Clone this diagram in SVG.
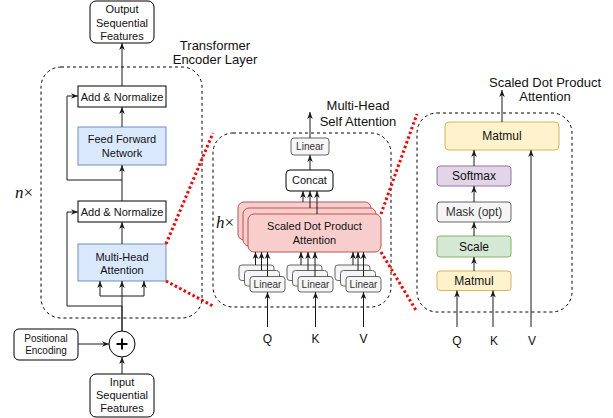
<svg xmlns="http://www.w3.org/2000/svg" width="613" height="418" viewBox="0 0 613 418">
  <style>
    text { font-family: "Liberation Sans", Arial, sans-serif; fill: #111; text-anchor: middle; }
    .t11 { font-size: 11px; }
    .t10 { font-size: 10px; }
    .t12 { font-size: 12px; }
    .t13 { font-size: 13px; }
    .plain { fill: #fff; stroke: #000; stroke-width: 1; }
    .blue { fill: #dae8fc; stroke: #6c8ebf; stroke-width: 1; }
    .red { fill: #f8cecc; stroke: #b85450; stroke-width: 1; }
    .gray { fill: #f5f5f5; stroke: #666; stroke-width: 1; }
    .yellow { fill: #fff2cc; stroke: #d6b656; stroke-width: 1; }
    .purple { fill: #e1d5e7; stroke: #9673a6; stroke-width: 1; }
    .green { fill: #d5e8d4; stroke: #82b366; stroke-width: 1; }
    .gtxt { fill: #333; }
    .dash { fill: none; stroke: #000; stroke-width: 1; stroke-dasharray: 3 3; }
    .edge { fill: none; stroke: #1a1a1a; stroke-width: 1; }
    .arrow { marker-end: url(#head); }
    .zoom { fill: none; stroke: #ff0000; stroke-width: 3; stroke-dasharray: 2.5 2.5; }
    .math { font-family: "Liberation Serif", "DejaVu Serif", serif; font-size: 17px; text-anchor: start; }
  </style>
  <defs>
    <marker id="head" viewBox="0 0 10 10" refX="10" refY="5" markerWidth="7" markerHeight="7" markerUnits="userSpaceOnUse" orient="auto">
      <path d="M0,1 L10,5 L0,9 L3,5 z" fill="#1a1a1a"/>
    </marker>
  </defs>

  <!-- ===== Encoder layer ===== -->
  <rect class="dash" x="41" y="67" width="161" height="251" rx="20"/>
  <text class="t13" x="215" y="49.5">Transformer</text>
  <text class="t13" x="215" y="63.5">Encoder Layer</text>
  <text class="math" x="15" y="198"><tspan font-style="italic">n</tspan>×</text>

  <g id="output">
    <rect class="plain" x="90" y="1" width="64" height="42" rx="6"/>
    <text class="t11" x="122" y="13.2">Output</text>
    <text class="t11" x="122" y="26.6">Sequential</text>
    <text class="t11" x="122" y="40">Features</text>
  </g>
  <g id="addnorm1">
    <rect class="plain" x="78" y="86" width="88" height="21"/>
    <text class="t11" x="122" y="100.5">Add &amp; Normalize</text>
  </g>
  <g id="ffn">
    <rect class="blue" x="78" y="127" width="88" height="38"/>
    <text class="t11" x="122" y="143">Feed Forward</text>
    <text class="t11" x="122" y="156.6">Network</text>
  </g>
  <g id="addnorm2">
    <rect class="plain" x="78" y="201" width="88" height="21"/>
    <text class="t11" x="122" y="215.5">Add &amp; Normalize</text>
  </g>
  <g id="mha">
    <rect class="blue" x="78" y="244" width="88" height="37"/>
    <text class="t11" x="122" y="260.6">Multi-Head</text>
    <text class="t11" x="122" y="274">Attention</text>
  </g>
  <g id="sum">
    <circle cx="122" cy="344" r="13" fill="#fff" stroke="#000" stroke-width="1"/>
    <path d="M116.5,344 H127.5 M122,338.5 V349.5" stroke="#000" stroke-width="2"/>
  </g>
  <g id="posenc">
    <rect class="plain" x="14" y="329" width="64" height="31" rx="5"/>
    <text class="t10" x="46" y="342.2">Positional</text>
    <text class="t10" x="46" y="354.2">Encoding</text>
  </g>
  <g id="input">
    <rect class="plain" x="90" y="374" width="64" height="43" rx="6"/>
    <text class="t11" x="122" y="385.6">Input</text>
    <text class="t11" x="122" y="399">Sequential</text>
    <text class="t11" x="122" y="411.6">Features</text>
  </g>

  <!-- ===== Multi-head self attention ===== -->
  <rect class="dash" x="213" y="133" width="178" height="174" rx="20"/>
  <text class="t13" x="358" y="109.5">Multi-Head</text>
  <text class="t13" x="358" y="125.5">Self Attention</text>
  <text class="math" x="216" y="228"><tspan font-style="italic">h</tspan>×</text>

  <g id="linear-out">
    <rect class="gray" x="291" y="138" width="38" height="17" rx="3"/>
    <text class="t10 gtxt" x="310" y="150">Linear</text>
  </g>
  <g id="concat">
    <rect class="plain" x="286" y="170" width="47" height="21" rx="4"/>
    <text class="t11" x="309.5" y="184.4">Concat</text>
  </g>
  <g id="sdpa-stack">
    <rect class="red" x="238" y="202" width="133" height="38" rx="6"/>
    <rect class="red" x="243" y="208" width="133" height="38" rx="6"/>
    <rect class="red" x="248" y="214" width="133" height="38" rx="6"/>
    <text class="t11" x="314.5" y="229.6">Scaled Dot Product</text>
    <text class="t11" x="314.5" y="243.9">Attention</text>
  </g>
  <g id="linear-q">
    <rect class="gray" x="239" y="265" width="35" height="15.5" rx="3"/>
    <rect class="gray" x="244.5" y="270.5" width="35" height="15.5" rx="3"/>
    <rect class="gray" x="250" y="276.5" width="35" height="15.5" rx="3"/>
    <text class="t10 gtxt" x="267.5" y="288">Linear</text>
  </g>
  <g id="linear-k">
    <rect class="gray" x="287" y="265" width="35" height="15.5" rx="3"/>
    <rect class="gray" x="292.5" y="270.5" width="35" height="15.5" rx="3"/>
    <rect class="gray" x="298" y="276.5" width="35" height="15.5" rx="3"/>
    <text class="t10 gtxt" x="315.5" y="288">Linear</text>
  </g>
  <g id="linear-v">
    <rect class="gray" x="335" y="265" width="35" height="15.5" rx="3"/>
    <rect class="gray" x="340.5" y="270.5" width="35" height="15.5" rx="3"/>
    <rect class="gray" x="346" y="276.5" width="35" height="15.5" rx="3"/>
    <text class="t10 gtxt" x="363.5" y="288">Linear</text>
  </g>
  <g id="mh-inputs">
    <text class="t12" x="267.5" y="342.5">Q</text>
    <text class="t12" x="315.5" y="342.5">K</text>
    <text class="t12" x="363.5" y="342.5">V</text>
  </g>

  <!-- ===== Scaled dot product attention ===== -->
  <rect class="dash" x="417" y="113" width="155" height="199" rx="20"/>
  <text class="t13" x="545" y="86.5">Scaled Dot Product</text>
  <text class="t13" x="545" y="100.5">Attention</text>

  <g id="matmul-out">
    <rect class="yellow" x="445" y="122" width="114" height="28" rx="4"/>
    <text class="t12" x="502" y="140.2">Matmul</text>
  </g>
  <g id="softmax">
    <rect class="purple" x="437" y="166" width="74" height="20" rx="3"/>
    <text class="t12" x="474" y="180.2">Softmax</text>
  </g>
  <g id="mask">
    <rect class="gray" x="437" y="202" width="74" height="20" rx="3"/>
    <text class="t12 gtxt" x="474" y="216.2">Mask (opt)</text>
  </g>
  <g id="scale">
    <rect class="green" x="437" y="236" width="74" height="21" rx="3"/>
    <text class="t12" x="474" y="250.7">Scale</text>
  </g>
  <g id="matmul-in">
    <rect class="yellow" x="437" y="271" width="74" height="19.5" rx="3"/>
    <text class="t12" x="474" y="285">Matmul</text>
  </g>
  <g id="sdpa-inputs">
    <text class="t12" x="457" y="345">Q</text>
    <text class="t12" x="494" y="345">K</text>
    <text class="t12" x="532" y="345">V</text>
  </g>

  <!-- ===== Connectors ===== -->
  <g id="connectors">
    <!-- encoder layer -->
    <path class="edge arrow" d="M122,86 V43"/>
    <path class="edge arrow" d="M122,127 V107"/>
    <path class="edge arrow" d="M122,201 V165"/>
    <path class="edge arrow" d="M122,180 H67 V96 H78"/>
    <path class="edge arrow" d="M122,244 V222"/>
    <path class="edge arrow" d="M122,331 V306 H67 V212 H78"/>
    <path class="edge" d="M122,331 V296" stroke-width="1.6"/>
    <path class="edge arrow" d="M122,296 V281"/>
    <path class="edge arrow" d="M122,296 H100 V281"/>
    <path class="edge arrow" d="M122,296 H144 V281"/>
    <path class="edge arrow" d="M78,344 H109"/>
    <path class="edge arrow" d="M122,374 V357"/>

    <!-- multi-head attention -->
    <path class="edge arrow" d="M310,138 V112"/>
    <path class="edge arrow" d="M310,170 V155"/>
    <path class="edge arrow" d="M303,202 V191"/>
    <path class="edge arrow" d="M310,208 V191"/>
    <path class="edge arrow" d="M317,214 V191"/>
    <path class="edge arrow" d="M255.5,265 V252"/>
    <path class="edge arrow" d="M261.5,270.5 V252"/>
    <path class="edge arrow" d="M267.5,276.5 V252"/>
    <path class="edge arrow" d="M301,265 V252"/>
    <path class="edge arrow" d="M308,270.5 V252"/>
    <path class="edge arrow" d="M315,276.5 V252"/>
    <path class="edge arrow" d="M353,265 V252"/>
    <path class="edge arrow" d="M358,270.5 V252"/>
    <path class="edge arrow" d="M363.5,276.5 V252"/>
    <path class="edge arrow" d="M267.5,327 V292"/>
    <path class="edge arrow" d="M315.5,327 V292"/>
    <path class="edge arrow" d="M363.5,327 V292"/>

    <!-- scaled dot product attention -->
    <path class="edge arrow" d="M502,122 V90"/>
    <path class="edge arrow" d="M474,166 V150"/>
    <path class="edge arrow" d="M474,202 V186"/>
    <path class="edge arrow" d="M474,236 V222"/>
    <path class="edge arrow" d="M474,271 V257"/>
    <path class="edge arrow" d="M457,327 V290.5"/>
    <path class="edge arrow" d="M493,327 V290.5"/>
    <path class="edge arrow" d="M531,327 V150"/>

    <!-- zoom-in guides -->
    <path class="zoom" d="M166,244 L213,133"/>
    <path class="zoom" d="M166,281 L213,306"/>
    <path class="zoom" d="M381,214 L417,114"/>
    <path class="zoom" d="M381,252 L417,312"/>
  </g>
</svg>
